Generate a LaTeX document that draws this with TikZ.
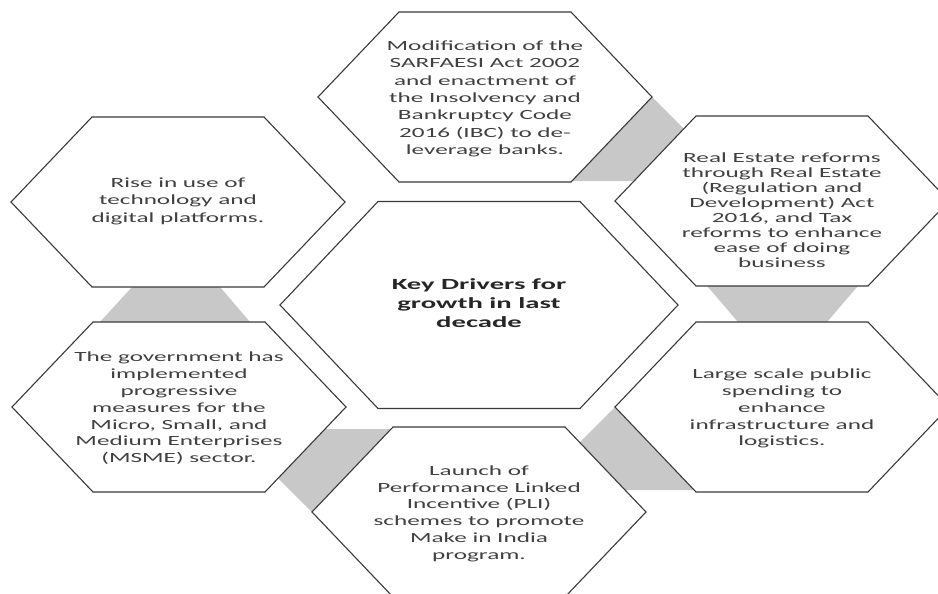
\documentclass[tikz,border=0pt]{standalone}
\usepackage{fontspec}
\setmainfont{Carlito}
\usepackage{graphicx}
\definecolor{hexline}{HTML}{3A3A3A}
\definecolor{txtcol}{HTML}{404040}
\definecolor{conncol}{HTML}{C8C8C8}
\tikzset{
  hexstyle/.style={draw=hexline, line width=1.1pt, fill=white, line join=miter},
  connstyle/.style={fill=conncol, draw=none},
  txtstyle/.style={inner sep=0pt, text=txtcol},
  keystyle/.style={inner sep=0pt, text=black!85},
}
% cx, cy, half top edge, slant, half height
\newcommand{\drawhex}[5]{%
  \draw[hexstyle] ({#1-#3-#4},{#2}) -- ({#1-#3},{#2-#5}) -- ({#1+#3},{#2-#5})
    -- ({#1+#3+#4},{#2}) -- ({#1+#3},{#2+#5}) -- ({#1-#3},{#2+#5}) -- cycle;}
% name, x, y, baselineskip, text
\newcommand{\hextext}[5]{%
  \node[txtstyle] (#1) at (#2,#3) {\fontsize{14}{#4}\selectfont
    \scalebox{1.8}[1]{\begin{tabular}{@{}c@{}}#5\end{tabular}}};}
\begin{document}
\begin{tikzpicture}[x=1pt,y=-1pt]
\useasboundingbox (0,0) rectangle (938,594);
\fill[white] (0,0) rectangle (938,594);
\clip (0,0) rectangle (938,594);
% gray connectors
\fill[connstyle] (560,181) -- (652,97) -- (736,181) -- cycle;
\fill[connstyle] (704.6,283) -- (860.4,283) -- (823.6,326) -- (741.4,326) -- cycle;
\fill[connstyle] (615,407) -- (532,490) -- (700,490) -- cycle;
\fill[connstyle] (312,512) -- (229,429) -- (400,429) -- cycle;
\fill[connstyle] (135.7,283) -- (216.6,283) -- (253.4,326) -- (96.3,326) -- cycle;
% hexagons
\drawhex{485}{97}{86}{81}{85}
\drawhex{782}{201}{86}{81}{85}
\drawhex{782}{407}{86}{81}{85}
\drawhex{479}{512}{86}{81}{85}
\drawhex{179}{407}{86}{81}{85}
\drawhex{178}{202}{86}{81}{85}
\drawhex{479}{305}{101}{98}{103.5}
% texts
\hextext{top}{485}{99}{17.3}{Modification of the\\SARFAESI Act 2002\\and enactment of\\the Insolvency and\\Bankruptcy Code\\2016 (IBC) to de-\\leverage banks.}
\hextext{topright}{782}{212}{15}{Real Estate reforms\\through Real Estate\\(Regulation and\\Development) Act\\2016, and Tax\\reforms to enhance\\ease of doing\\business}
\hextext{right}{782}{409}{16.7}{Large scale public\\spending to\\enhance\\infrastructure and\\logistics.}
\hextext{bottom}{479}{514}{16.7}{Launch of\\Performance Linked\\Incentive (PLI)\\schemes to promote\\Make in India\\program.}
\hextext{leftbottom}{179}{409}{16.8}{The government has\\implemented\\progressive\\measures for the\\Micro, Small, and\\Medium Enterprises\\(MSME) sector.}
\hextext{lefttop}{178}{201}{17.5}{Rise in use of\\technology and\\digital platforms.}
\node[keystyle] (key) at (479,305) {\fontsize{15.5}{19}\selectfont\bfseries
  \scalebox{1.85}[1]{\begin{tabular}{@{}c@{}}Key Drivers for\\growth in last\\decade\end{tabular}}};
\end{tikzpicture}
\end{document}
